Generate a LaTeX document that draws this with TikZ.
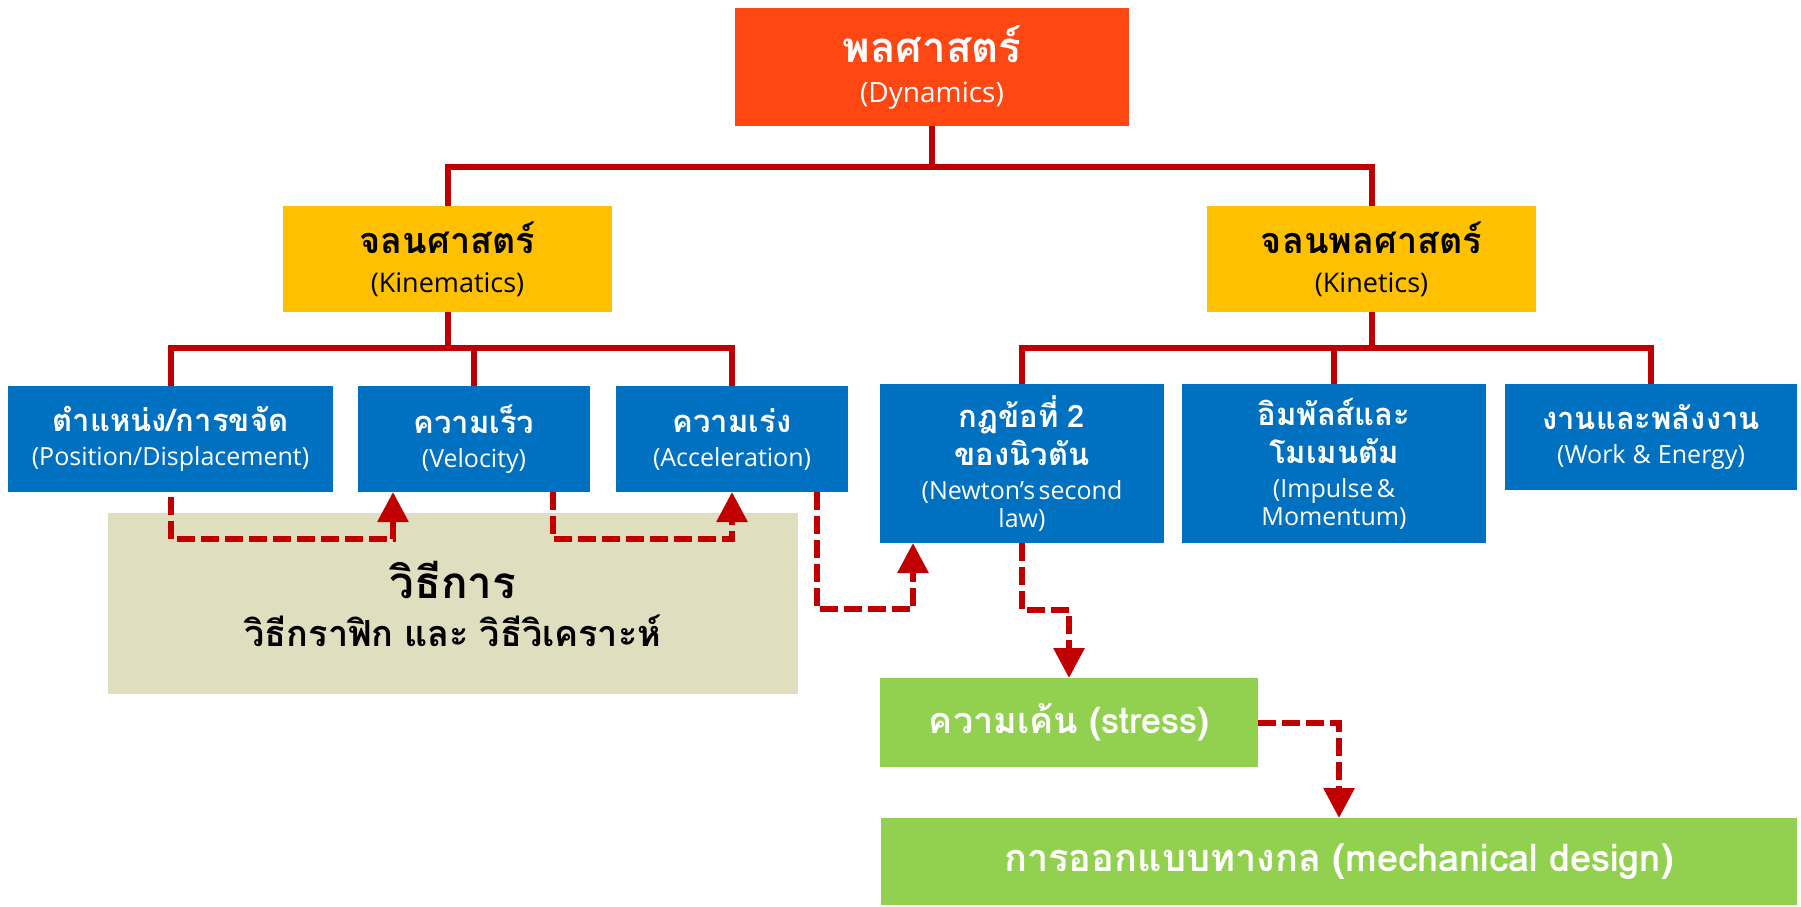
\documentclass[tikz,border=0pt]{standalone}
\usepackage{fontspec}
\setmainfont{Open Sans}
\newfontfamily\thaifont[Script=Thai]{Loma}
\usetikzlibrary{arrows.meta}
\definecolor{dynC}{HTML}{FF4713}
\definecolor{yelC}{HTML}{FFC000}
\definecolor{bluC}{HTML}{0070C0}
\definecolor{grnC}{HTML}{92D050}
\definecolor{begC}{HTML}{DFDFC0}
\definecolor{redC}{HTML}{C00000}
\newcommand\TT[2]{\thaifont\bfseries\fontsize{#1}{#2}\selectfont}
\newcommand\SB[2]{\normalfont\fontsize{#1}{#2}\selectfont}
\newcommand\tsp{\hspace{0.3em}}
\begin{document}
\begin{tikzpicture}[x=1pt,y=-1pt,
  boxs/.style={inner sep=0pt, outer sep=0pt, align=center, anchor=center},
  conn/.style={draw=redC, line width=6pt, line join=miter},
  dasharrow/.style={draw=redC, line width=6pt, dash pattern=on 18pt off 6pt,
     -{Triangle[length=30pt,width=30pt]}}
]
\useasboundingbox[fill=white] (0,0) rectangle (1801,906);

% top
\node[boxs, fill=dynC, text=white, minimum width=394pt, minimum height=118pt, text width=380pt] (dyn) at (932,67)
  {\TT{42}{46}พลศาสตร์\par\SB{28}{40}(Dynamics)\par};

% level 2
\node[boxs, fill=yelC, text=black, minimum width=329pt, minimum height=106pt, text width=320pt] (kin) at (447.5,259)
  {\TT{36}{40}จลนศาสตร์\par\SB{27}{39}(Kinematics)\par};
\node[boxs, fill=yelC, text=black, minimum width=329pt, minimum height=106pt, text width=320pt] (knt) at (1371.5,259)
  {\TT{36}{40}จลนพลศาสตร์\par\SB{27}{39}(Kinetics)\par};

% level 3 left
\node[boxs, fill=bluC, text=white, minimum width=325pt, minimum height=106pt, text width=320pt] (pos) at (170.5,439)
  {\TT{31}{36}ตำแหน่ง/การขจัด\par\SB{25}{34}(Position/Displacement)\par};
\node[boxs, fill=bluC, text=white, minimum width=232pt, minimum height=106pt, text width=226pt] (vel) at (474,439)
  {\TT{31}{36}ความเร็ว\par\SB{25}{34}(Velocity)\par};
\node[boxs, fill=bluC, text=white, minimum width=232pt, minimum height=106pt, text width=226pt] (acc) at (732,439)
  {\TT{31}{36}ความเร่ง\par\SB{25}{34}(Acceleration)\par};

% level 3 right
\node[boxs, fill=bluC, text=white, minimum width=284pt, minimum height=159pt, text width=276pt] (new) at (1022,463.5)
  {\TT{31}{38}กฎข้อที่\tsp 2\\ของนิวตัน\par\SB{25}{34}(Newton’s second\\[-6pt]law)\par};
\node[boxs, fill=bluC, text=white, minimum width=304pt, minimum height=159pt, text width=296pt] (imp) at (1334,463.5)
  {\TT{31}{38}อิมพัลส์และ\\โมเมนตัม\par\SB{25}{34}(Impulse \&\\[-6pt]Momentum)\par};
\node[boxs, fill=bluC, text=white, minimum width=292pt, minimum height=106pt, text width=286pt] (wrk) at (1651,437)
  {\TT{31}{36}งานและพลังงาน\par\SB{25}{34}(Work\hspace{0.15em} \&\hspace{0.15em} Energy)\par};

% methods
\node[boxs, fill=begC, text=black, minimum width=690pt, minimum height=181pt, text width=680pt] (met) at (453,603.5)
  {\TT{44}{48}วิธีการ\par\TT{36}{48}วิธีกราฟิก\tsp และ\tsp วิธีวิเคราะห์\par};

% green
\node[boxs, fill=grnC, text=white, minimum width=378pt, minimum height=89pt, text width=370pt] (str) at (1069,722.5)
  {\TT{36}{40}ความเค้น\tsp(stress)};
\node[boxs, fill=grnC, text=white, minimum width=916pt, minimum height=87pt, text width=900pt] (mec) at (1339,861.5)
  {\TT{38}{40}การออกแบบทางกล\tsp(mechanical\tsp design)};

% tree connectors
\coordinate (h1) at (0,167);
\coordinate (h2) at (0,348);
\draw[conn] (dyn.south) -- (dyn.south |- h1);
\draw[conn] (kin.north) -- (kin.north |- h1) -| (knt.north);
\draw[conn] (kin.south) -- (kin.south |- h2);
\draw[conn] (pos.north) -- (pos.north |- h2) -| (acc.north);
\draw[conn] (vel.north) -- (vel.north |- h2);
\draw[conn] (knt.south) -- (knt.south |- h2);
\draw[conn] (new.north) -- (new.north |- h2) -| (wrk.north);
\draw[conn] (imp.north) -- (imp.north |- h2);

% dashed arrows
\draw[dasharrow] ([yshift=-5pt]pos.south) -- ++(0,42) -| ([xshift=-81pt]vel.south);
\draw[dasharrow] ([xshift=79pt]vel.south) -- ++(0,47) -| (acc.south);
\draw[dasharrow] ([xshift=85pt]acc.south) -- ++(0,117) -| ([xshift=-109pt]new.south);
\draw[dasharrow] (new.south) -- ++(0,67) -| (str.north);
\draw[dasharrow] (str.east) -| (mec.north);
\end{tikzpicture}
\end{document}
